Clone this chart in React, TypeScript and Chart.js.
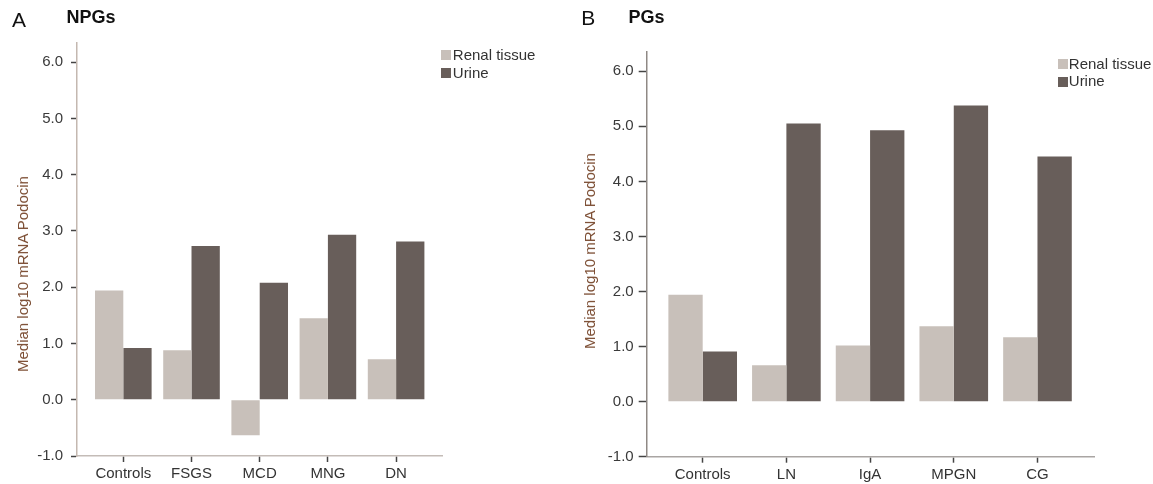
import React, { useEffect, useRef } from 'react';
import { Chart, registerables } from 'chart.js';

Chart.register(...registerables);

// ---------- data ----------
const npgCategories = ['Controls', 'FSGS', 'MCD', 'MNG', 'DN'];
const npgRenal = [1.94, 0.88, -0.63, 1.45, 0.72];
const npgUrine = [0.92, 2.73, 2.08, 2.93, 2.81];

const pgCategories = ['Controls', 'LN', 'IgA', 'MPGN', 'CG'];
const pgRenal = [1.94, 0.66, 1.02, 1.37, 1.17];
const pgUrine = [0.91, 5.05, 4.93, 5.38, 4.45];

const yTickValues = [-1, 0, 1, 2, 3, 4, 5, 6];
const seriesLabels = ['Renal tissue', 'Urine'];
const yAxisTitle = 'Median log10 mRNA Podocin';

const renalColor = '#c8c0ba';
const urineColor = '#685e5a';
const FONT = '"Liberation Sans", Arial, Helvetica, sans-serif';

type PanelCfg = {
  letter: string;
  name: string;
  categories: string[];
  renal: number[];
  urine: number[];
  left: number;
  width: number;
  padTop: number;
  padRight: number;
  yAxisWidth: number;
  xAxisHeight: number;
  xMin: number;
  xMax: number;
  yMax: number;
  catPct: number;
  yTickLen: number;
  yTickPad: number;
  yBorder: string;
  xBorder: string;
  letterPos: [number, number];
  namePos: [number, number];
  titleCenter: [number, number];
  legendSwatchX: number;
  legendTextX: number;
  legendTop: number;
  legendRow: number;
};

const npgCfg: PanelCfg = {
  letter: 'A',
  name: 'NPGs',
  categories: npgCategories,
  renal: npgRenal,
  urine: npgUrine,
  left: 0,
  width: 575,
  padTop: 43,
  padRight: 133,
  yAxisWidth: 77,
  xAxisHeight: 28,
  xMin: -0.679,
  xMax: 4.673,
  yMax: 6.34,
  catPct: 0.83,
  yTickLen: 6,
  yTickPad: 8,
  yBorder: '#c4b8b0',
  xBorder: '#c4bcb7',
  letterPos: [12, 9.2],
  namePos: [66.6, 7.5],
  titleCenter: [22.5, 274],
  legendSwatchX: 441,
  legendTextX: 452.8,
  legendTop: 45.7,
  legendRow: 18,
};

const pgCfg: PanelCfg = {
  letter: 'B',
  name: 'PGs',
  categories: pgCategories,
  renal: pgRenal,
  urine: pgUrine,
  left: 575,
  width: 578,
  padTop: 52,
  padRight: 58.7,
  yAxisWidth: 71.7,
  xAxisHeight: 27.3,
  xMin: -0.669,
  xMax: 4.679,
  yMax: 6.35,
  catPct: 0.82,
  yTickLen: 8,
  yTickPad: 5,
  yBorder: '#8f8985',
  xBorder: '#a9a5a3',
  letterPos: [6.3, 7.2],
  namePos: [53.6, 8.3],
  titleCenter: [15, 251],
  legendSwatchX: 483,
  legendTextX: 493.8,
  legendTop: 54.7,
  legendRow: 17.4,
};

function Panel({ cfg }: { cfg: PanelCfg }) {
  const ref = useRef<HTMLCanvasElement | null>(null);

  useEffect(() => {
    if (!ref.current) return;
    const tickFont = { family: FONT, size: 15 };
    const chart = new Chart(ref.current, {
      type: 'bar',
      data: {
        datasets: [
          {
            label: seriesLabels[0],
            data: cfg.renal.map((v, i) => ({ x: i, y: v })),
            backgroundColor: renalColor,
            borderWidth: 0,
            categoryPercentage: cfg.catPct,
            barPercentage: 1,
          },
          {
            label: seriesLabels[1],
            data: cfg.urine.map((v, i) => ({ x: i, y: v })),
            backgroundColor: urineColor,
            borderWidth: 0,
            categoryPercentage: cfg.catPct,
            barPercentage: 1,
          },
        ],
      },
      options: {
        responsive: false,
        maintainAspectRatio: false,
        animation: false,
        devicePixelRatio: 1,
        layout: { padding: { top: cfg.padTop, right: cfg.padRight, left: 0, bottom: 0 } },
        plugins: {
          legend: { display: false },
          tooltip: { enabled: false },
          title: { display: false },
        },
        scales: {
          x: {
            type: 'linear',
            min: cfg.xMin,
            max: cfg.xMax,
            offset: false,
            grid: {
              display: true,
              drawOnChartArea: false,
              drawTicks: true,
              tickLength: 6,
              tickColor: '#444',
              tickWidth: 1.5,
              offset: false,
            },
            border: { display: true, color: cfg.xBorder, width: 1.5 },
            ticks: {
              font: tickFont,
              color: '#333',
              padding: 3,
              maxRotation: 0,
              autoSkip: false,
              callback: (v: any) => cfg.categories[Math.round(Number(v))] ?? '',
            },
            afterBuildTicks: (s: any) => {
              s.ticks = cfg.categories.map((_, i) => ({ value: i }));
            },
            afterFit: (s: any) => {
              s.height = cfg.xAxisHeight;
            },
          },
          y: {
            type: 'linear',
            min: -1,
            max: cfg.yMax,
            grid: {
              display: true,
              drawOnChartArea: false,
              drawTicks: true,
              tickLength: cfg.yTickLen,
              tickColor: '#444',
              tickWidth: 1.5,
            },
            border: { display: true, color: cfg.yBorder, width: 1.5 },
            ticks: {
              font: tickFont,
              color: '#3a3a3a',
              padding: cfg.yTickPad,
              callback: (v: any) => Number(v).toFixed(1),
            },
            afterBuildTicks: (s: any) => {
              s.ticks = yTickValues.map((v) => ({ value: v }));
            },
            afterFit: (s: any) => {
              s.width = cfg.yAxisWidth;
            },
          },
        },
      } as any,
    });
    return () => chart.destroy();
  }, [cfg]);

  const colors = [renalColor, urineColor];

  return (
    <div
      style={{
        position: 'absolute',
        left: cfg.left,
        top: 0,
        width: cfg.width,
        height: 484,
        fontFamily: FONT,
      }}
    >
      <canvas
        ref={ref}
        width={cfg.width}
        height={484}
        style={{ position: 'absolute', left: 0, top: 0, width: cfg.width, height: 484 }}
      />
      <div
        style={{
          position: 'absolute',
          left: cfg.letterPos[0],
          top: cfg.letterPos[1],
          fontSize: 21,
          lineHeight: '21px',
          color: '#111',
          whiteSpace: 'nowrap',
        }}
      >
        {cfg.letter}
      </div>
      <div
        style={{
          position: 'absolute',
          left: cfg.namePos[0],
          top: cfg.namePos[1],
          fontSize: 18,
          lineHeight: '18px',
          fontWeight: 'bold',
          color: '#111',
          whiteSpace: 'nowrap',
        }}
      >
        {cfg.name}
      </div>
      <div
        style={{
          position: 'absolute',
          left: cfg.titleCenter[0],
          top: cfg.titleCenter[1],
          transform: 'translate(-50%, -50%) rotate(-90deg)',
          fontSize: 15,
          lineHeight: '18px',
          color: '#7d4f35',
          whiteSpace: 'nowrap',
        }}
      >
        {yAxisTitle}
      </div>
      {seriesLabels.map((label, i) => (
        <React.Fragment key={label}>
          <div
            style={{
              position: 'absolute',
              left: cfg.legendSwatchX,
              top: cfg.legendTop + i * cfg.legendRow + 4.5,
              width: 10,
              height: 10,
              background: colors[i],
            }}
          />
          <div
            style={{
              position: 'absolute',
              left: cfg.legendTextX,
              top: cfg.legendTop + i * cfg.legendRow,
              fontSize: 15,
              lineHeight: '18px',
              color: '#333',
              whiteSpace: 'nowrap',
            }}
          >
            {label}
          </div>
        </React.Fragment>
      ))}
    </div>
  );
}

export default function App() {
  return (
    <div
      style={{
        position: 'absolute',
        left: 0,
        top: 0,
        width: 1153,
        height: 484,
        background: '#fff',
        overflow: 'hidden',
      }}
    >
      <Panel cfg={npgCfg} />
      <Panel cfg={pgCfg} />
    </div>
  );
}
